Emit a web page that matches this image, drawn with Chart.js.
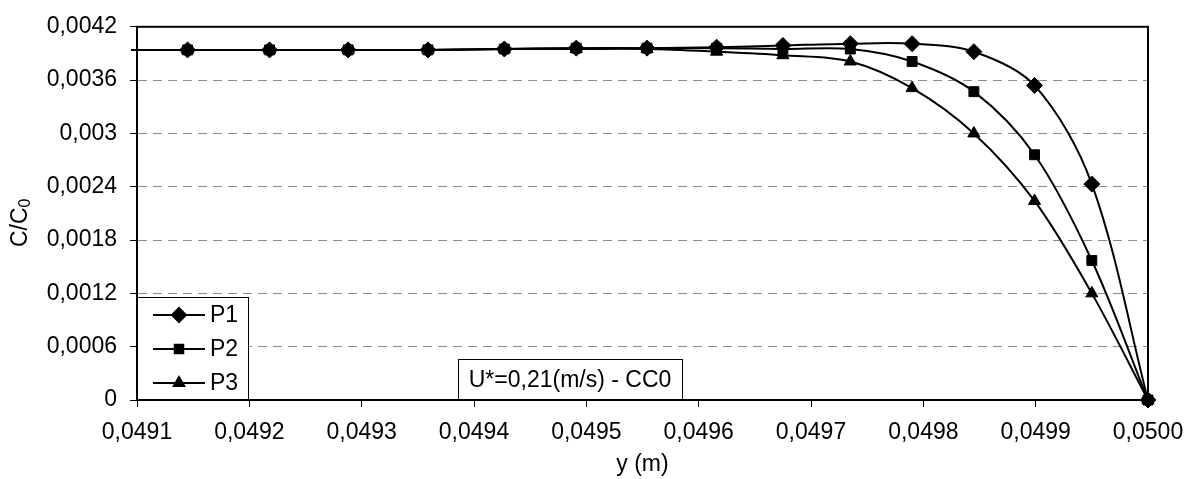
<!DOCTYPE html>
<html>
<head>
<meta charset="utf-8">
<script src="https://cdn.jsdelivr.net/npm/chart.js@4/dist/chart.umd.min.js"></script>
<style>
  html, body { margin: 0; padding: 0; background: #fff; }
</style>
</head>
<body>
<canvas id="chart" width="1199" height="479"></canvas>
<script>
// positions across the channel (m)
const yPos = [0.04907, 0.049145, 0.049218, 0.049288, 0.049359, 0.049427, 0.049491, 0.049554,
  0.049616, 0.049675, 0.049735, 0.049790, 0.049845, 0.049899, 0.049950, 0.0500];

// normalised concentration C/C0 per probe
const p1 = [0.00394, 0.00394, 0.00394, 0.00394, 0.00394, 0.00395, 0.00396, 0.00396,
  0.00397, 0.00399, 0.00401, 0.00401, 0.00392, 0.00354, 0.00243, 0];
const p2 = [0.00394, 0.00394, 0.00394, 0.00394, 0.00394, 0.00395, 0.00396, 0.00396,
  0.00396, 0.00395, 0.00395, 0.00381, 0.00347, 0.00276, 0.00157, 0];
const p3 = [0.00394, 0.00394, 0.00394, 0.00394, 0.00394, 0.00395, 0.00395, 0.00395,
  0.00392, 0.00388, 0.00381, 0.00351, 0.00300, 0.00224, 0.00120, 0];

const seriesNames = ['P1', 'P2', 'P3'];
const markerStyles = ['rectRot', 'rect', 'triangle'];
const markerSizes = [8, 7, 7];

const xTicks = [0.0491, 0.0492, 0.0493, 0.0494, 0.0495, 0.0496, 0.0497, 0.0498, 0.0499, 0.0500];
const yTicks = [0, 0.0006, 0.0012, 0.0018, 0.0024, 0.003, 0.0036, 0.0042];

const noteText = 'U*=0,21(m/s) - CC0';

const FONT = '"Liberation Sans", Arial, sans-serif';
const FONT_SIZE = 23;

function fmtY(v) {
  return String(Number(v.toFixed(4))).replace('.', ',');
}
function fmtX(v) {
  return v.toFixed(4).replace('.', ',');
}

function makeDataset(name, values, i) {
  return {
    label: name,
    data: yPos.map((x, k) => ({ x: x, y: values[k] })),
    borderColor: '#000',
    backgroundColor: '#000',
    borderWidth: 2,
    pointStyle: markerStyles[i],
    pointRadius: markerSizes[i],
    pointBorderWidth: 1,
    pointBackgroundColor: '#000',
    pointBorderColor: '#000',
    tension: 0.33,
    clip: { left: 6, top: 10, right: 20, bottom: 20 }
  };
}

// frame, legend box, note box and axis titles
const decorations = {
  id: 'decorations',
  afterDraw(chart) {
    const ctx = chart.ctx;
    const a = chart.chartArea;
    ctx.save();

    // legend box
    const lx = a.left, lr = 248, lt = 297, lb = a.bottom;
    ctx.fillStyle = '#fff';
    ctx.fillRect(lx, lt, lr - lx, lb - lt);
    ctx.strokeStyle = '#000';
    ctx.lineWidth = 1;
    ctx.strokeRect(lx + 0.5, lt + 0.5, lr - lx, lb - lt);
    ctx.font = FONT_SIZE + 'px ' + FONT;
    ctx.textBaseline = 'middle';
    ctx.textAlign = 'left';
    const rows = [315, 349, 383];
    seriesNames.forEach((name, i) => {
      const y = rows[i];
      ctx.strokeStyle = '#000';
      ctx.lineWidth = 2;
      ctx.beginPath();
      ctx.moveTo(153, y);
      ctx.lineTo(205, y);
      ctx.stroke();
      ctx.fillStyle = '#000';
      Chart.helpers.drawPoint(ctx, { pointStyle: markerStyles[i], radius: markerSizes[i] - 1, borderWidth: 1, rotation: 0 }, 179, y);
      ctx.fill();
      ctx.fillText(name, 210, y + 1);
    });

    // note box
    const nx = 458, nr = 682, nt = 359;
    ctx.fillStyle = '#fff';
    ctx.fillRect(nx, nt, nr - nx, a.bottom - nt);
    ctx.strokeStyle = '#000';
    ctx.lineWidth = 1;
    ctx.strokeRect(nx + 0.5, nt + 0.5, nr - nx, a.bottom - nt);
    ctx.fillStyle = '#000';
    ctx.textAlign = 'center';
    ctx.fillText(noteText, (nx + nr) / 2, 381);

    // plot frame
    ctx.strokeStyle = '#000';
    ctx.lineWidth = 2;
    ctx.strokeRect(a.left, a.top, a.right - a.left, a.bottom - a.top);

    // x title
    ctx.fillStyle = '#000';
    ctx.textAlign = 'center';
    ctx.fillText('y (m)', (a.left + a.right) / 2, 465);

    // y title with subscript
    ctx.translate(21, 247);
    ctx.rotate(-Math.PI / 2);
    ctx.textAlign = 'left';
    ctx.font = FONT_SIZE + 'px ' + FONT;
    ctx.fillText('C/C', 0, 0);
    const w = ctx.measureText('C/C').width;
    ctx.font = '16px ' + FONT;
    ctx.fillText('0', w, 5);
    ctx.restore();
  }
};

new Chart(document.getElementById('chart'), {
  type: 'line',
  data: {
    datasets: [makeDataset('P1', p1, 0), makeDataset('P2', p2, 1), makeDataset('P3', p3, 2)]
  },
  options: {
    responsive: false,
    animation: false,
    layout: { padding: { left: 0, top: 23, right: 51, bottom: 0 } },
    plugins: {
      legend: { display: false },
      tooltip: { enabled: false }
    },
    scales: {
      x: {
        type: 'linear',
        min: 0.0491,
        max: 0.0500,
        afterBuildTicks: s => { s.ticks = xTicks.map(v => ({ value: v })); },
        afterFit: s => { s.height = 79; },
        grid: { drawOnChartArea: false, tickLength: 7, tickColor: '#000', tickWidth: 1 },
        border: { color: '#000', width: 2 },
        ticks: {
          color: '#000',
          font: { family: FONT, size: FONT_SIZE },
          padding: 12,
          maxRotation: 0,
          autoSkip: false,
          callback: v => fmtX(v)
        }
      },
      y: {
        min: 0,
        max: 0.0042,
        afterBuildTicks: s => { s.ticks = yTicks.map(v => ({ value: v })); },
        afterFit: s => { s.width = 137; },
        grid: {
          color: ctx => (ctx.tick && ctx.tick.value > 0 && ctx.tick.value < 0.0042) ? '#8c8c8c' : 'rgba(0,0,0,0)',
          lineWidth: 1,
          tickLength: 7,
          tickColor: '#000',
          tickWidth: 1,
          tickBorderDash: [0, 0]
        },
        border: { color: '#000', width: 2, dash: [9, 6] },
        ticks: {
          color: '#000',
          font: { family: FONT, size: FONT_SIZE },
          padding: 13,
          autoSkip: false,
          callback: v => fmtY(v)
        }
      }
    }
  },
  plugins: [decorations]
});
</script>
</body>
</html>
